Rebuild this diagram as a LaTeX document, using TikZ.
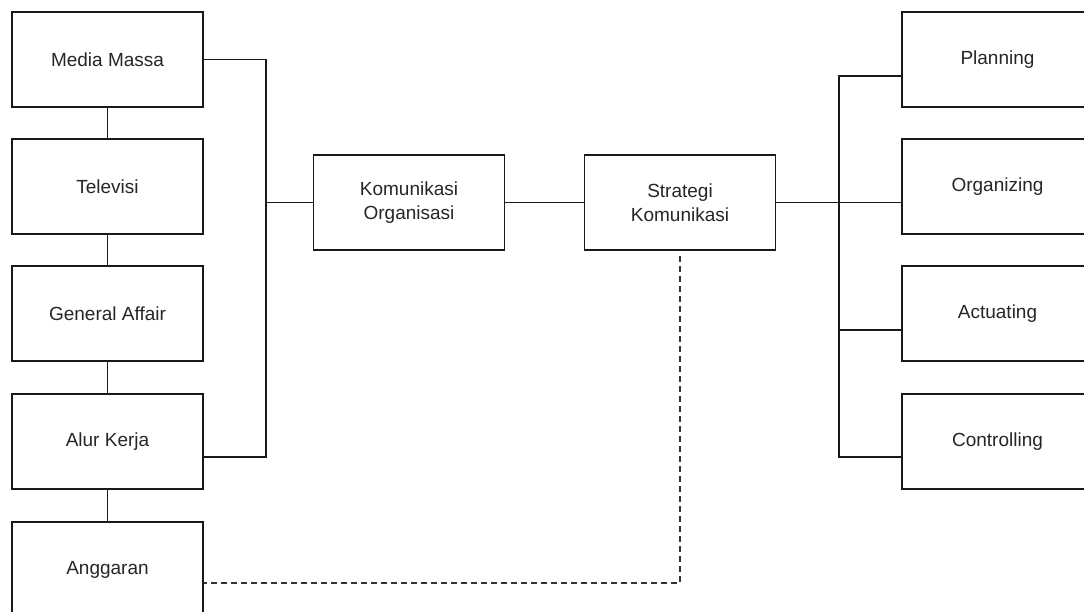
\documentclass[tikz,border=0pt]{standalone}
\usepackage{fontspec}
\setmainfont{Liberation Sans}
\begin{document}
\begin{tikzpicture}[x=1pt,y=-1pt,
  box/.style={draw=black!90, line width=1.5pt, minimum width=191pt, minimum height=95pt, inner sep=0pt,
    align=center, text=black!85, font=\fontsize{19}{24}\selectfont},
  link/.style={draw=black!90, line width=1.6pt},
  dashlink/.style={draw=black!80, line width=1.5pt, dash pattern=on 6pt off 4pt}]
\clip (0,0) rectangle (1084,612);
\fill[white] (0,0) rectangle (1084,612);
% left column
\node[box] (MM) at (107.5,59.5) {Media Massa};
\node[box] (TV) at (107.5,186.5) {Televisi};
\node[box] (GA) at (107.5,313.5) {General Affair};
\node[box] (AK) at (107.5,441.5) {Alur Kerja};
\node[box] (AG) at (107.5,569.5) {Anggaran};
% middle
\node[box] (KO) at (409,202.5) {Komunikasi\\Organisasi};
\node[box] (SK) at (680,202.5) {Strategi\\Komunikasi};
% right column
\node[box] (PL) at (997.5,59.5) {Planning};
\node[box] (OR) at (997.5,186.5) {Organizing};
\node[box] (AC) at (997.5,313.5) {Actuating};
\node[box] (CO) at (997.5,441.5) {Controlling};
% left chain
\draw[link] (MM) -- (TV);
\draw[link] (TV) -- (GA);
\draw[link] (GA) -- (AK);
\draw[link] (AK) -- (AG);
% left bracket
\coordinate (lb) at (266,457);
\coordinate (lm) at (266,202.5);
\draw[link] (MM.east) -| (lb) -- (lb -| AK.east);
\draw[link] (lm) -- (KO.west);
\draw[link] (KO.east) -- (SK.west);
% right bracket
\coordinate (rt) at (839,76);
\coordinate (rb) at (839,457);
\coordinate (ra) at (839,330);
\draw[link] (SK.east) -- (SK.east -| OR.west);
\draw[link] (rt -| PL.west) -- (rt) -- (rb) -- (rb -| CO.west);
\draw[link] (ra) -- (ra -| AC.west);
% dashed
\coordinate (dc) at (680,583);
\draw[dashlink] ([yshift=-5pt]SK.south) -- (dc) -- (dc -| AG.east);
\end{tikzpicture}
\end{document}
